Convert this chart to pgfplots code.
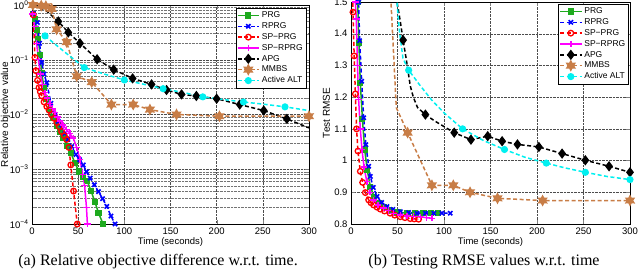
\documentclass[border=0pt]{standalone}
\usepackage{fontspec}
\setmainfont{Liberation Serif}
\newfontfamily\axfont{Liberation Sans}
\usepackage{pgfplots}
\pgfplotsset{compat=1.18}
\usetikzlibrary{plotmarks}
\definecolor{cgreen}{RGB}{30,170,30}
\definecolor{cblue}{RGB}{0,0,255}
\definecolor{cred}{RGB}{255,0,0}
\definecolor{cmag}{RGB}{255,0,255}
\definecolor{cbrown}{RGB}{200,125,70}
\definecolor{ccyan}{RGB}{0,240,240}
\pgfdeclareplotmark{hexagram}{%
 \pgfpathmoveto{\pgfpointpolar{90}{\pgfplotmarksize}}%
 \pgfpathlineto{\pgfpointpolar{120}{0.55\pgfplotmarksize}}%
 \pgfpathlineto{\pgfpointpolar{150}{\pgfplotmarksize}}%
 \pgfpathlineto{\pgfpointpolar{180}{0.55\pgfplotmarksize}}%
 \pgfpathlineto{\pgfpointpolar{210}{\pgfplotmarksize}}%
 \pgfpathlineto{\pgfpointpolar{240}{0.55\pgfplotmarksize}}%
 \pgfpathlineto{\pgfpointpolar{270}{\pgfplotmarksize}}%
 \pgfpathlineto{\pgfpointpolar{300}{0.55\pgfplotmarksize}}%
 \pgfpathlineto{\pgfpointpolar{330}{\pgfplotmarksize}}%
 \pgfpathlineto{\pgfpointpolar{0}{0.55\pgfplotmarksize}}%
 \pgfpathlineto{\pgfpointpolar{30}{\pgfplotmarksize}}%
 \pgfpathlineto{\pgfpointpolar{60}{0.55\pgfplotmarksize}}%
 \pgfpathclose\pgfusepathqfillstroke}
\pgfplotsset{
 common/.style={
  scale only axis, xmin=0, xmax=300, xtick={0,50,...,300},
  font=\axfont\fontsize{9.5}{11}\selectfont,
  /pgf/number format/assume math mode=true,
  grid=major, major grid style={densely dotted, black!70, line width=0.4pt},
  minor grid style={densely dotted, black!55, line width=0.4pt},
  tick align=inside, axis line style={black, line width=0.5pt},
  xlabel={Time (seconds)}, xlabel style={yshift=4pt},
  ylabel style={font=\axfont\fontsize{10}{12}\selectfont, anchor=south, inner sep=0pt},
  legend style={font=\axfont\fontsize{8.5}{9}\selectfont, draw=black, line width=0.5pt,
    inner xsep=1pt, inner ysep=1.5pt, row sep=-0.6pt, cells={anchor=west}},
  legend image code/.code={\draw[mark repeat=2,mark phase=2,#1] plot coordinates {(0cm,0cm) (0.38cm,0cm) (0.76cm,0cm)};},
 },
 sprg/.style={cgreen, solid, line width=1.5pt, mark=square*, mark size=2.3pt, mark options={solid}},
 srprg/.style={cblue, line width=1.5pt, dash pattern=on 4pt off 2.5pt, mark=x, mark size=3pt, mark options={solid, line width=1.6pt}},
 ssp/.style={cred, line width=1.5pt, dash pattern=on 4pt off 2.5pt, mark=o, mark size=2.8pt, mark options={solid, line width=1.3pt}},
 ssr/.style={cmag, solid, line width=1.5pt, mark=+, mark size=3.2pt, mark options={solid, line width=1.4pt}},
 sapg/.style={black, line width=1.5pt, dash pattern=on 4pt off 2.5pt, mark=diamond*, mark size=4pt, mark options={solid, fill=black}},
 smm/.style={cbrown, line width=1.5pt, dash pattern=on 4pt off 2.5pt, mark=hexagram, mark size=4.4pt, mark options={solid, fill=cbrown}},
 salt/.style={ccyan, line width=1.5pt, dash pattern=on 4pt off 2.5pt, mark=*, mark size=2.8pt, mark options={solid, fill=ccyan}},
}
\newcommand\legs{%
\addlegendimage{sprg}\addlegendentry{PRG}
\addlegendimage{srprg}\addlegendentry{RPRG}
\addlegendimage{ssp}\addlegendentry{SP−PRG}
\addlegendimage{ssr}\addlegendentry{SP−RPRG}
\addlegendimage{sapg}\addlegendentry{APG}
\addlegendimage{smm}\addlegendentry{MMBS}
\addlegendimage{salt}\addlegendentry{Active ALT}}
\begin{document}
\begin{tikzpicture}[x=1pt,y=1pt]
\path[use as bounding box] (0,0) rectangle (640,274);
% ---------------- left ----------------
\begin{axis}[common, at={(32pt,50pt)}, anchor=south west, width=277pt, height=219pt,
  ymode=log, ymin=1e-4, ymax=1, yminorgrids=true,
  ytick={1e-4,1e-3,1e-2,1e-1,1},
  yticklabels={10\textsuperscript{−4},10\textsuperscript{−3},10\textsuperscript{−2},10\textsuperscript{−1},10\textsuperscript{0}},
  ylabel={Relative objective value},
  ylabel style={at={(axis description cs:-0.078,0.5)}},
  legend style={at={(1,1)}, anchor=north east, xshift=-3pt, yshift=-3pt}]
\addplot[sprg, forget plot] coordinates {(1.4,0.68) (3.2,0.55) (5,0.35) (6.9,0.24) (8.7,0.12) (10.5,0.058) (13,0.03) (16,0.019) (19.5,0.012) (23,0.0087) (27,0.0062) (30.5,0.0048) (34,0.0037) (38,0.0027) (42,0.002) (46.5,0.0013) (51,9.1e-4) (55.5,7.2e-4) (60,6e-4) (64,4e-4) (68,2.57e-4) (72,1.6e-4) (77,1e-4) (79,8e-5)};
\addplot[srprg, forget plot] coordinates {(1.4,0.7) (5.8,0.48) (8.2,0.2) (10.5,0.089) (13,0.055) (16,0.038) (20.5,0.016) (25,0.01) (28.5,0.0075) (32,0.0057) (35.5,0.0045) (39,0.0035) (43,0.0026) (47.6,0.00185) (51.5,0.0015) (55.5,0.0012) (59,9e-4) (63,6.9e-4) (67.5,5.2e-4) (72,3.9e-4) (76.5,2.9e-4) (81,2.1e-4) (85.5,1.4e-4) (90,1e-4) (92,8e-5)};
\addplot[ssp, forget plot] coordinates {(1.4,0.66) (3.2,0.11) (4.3,0.063) (6,0.042) (7.6,0.031) (9,0.026) (10.5,0.022) (13,0.017) (16,0.014) (18.5,0.012) (21,0.01) (24,0.0085) (27,0.0071) (29.5,0.006) (32,0.0049) (35,0.0041) (37.5,0.0035) (40,0.0025) (42,0.0012) (45,4e-4) (49,1e-4) (50,7e-5)};
\addplot[ssr, forget plot] coordinates {(0.7,0.68) (3,0.4) (5,0.2) (7,0.1) (9,0.055) (11.5,0.035) (14,0.025) (16.5,0.02) (19.5,0.016) (22,0.013) (25,0.011) (27.5,0.009) (30,0.0076) (33.5,0.0064) (37.5,0.0053) (41,0.0045) (44.7,0.0037) (48.5,0.0025) (52,0.0015) (55,8e-4) (57,5e-4) (59,2e-4) (60,1e-4) (61,7e-5)};
\addplot[sapg, forget plot, mark indices={3,4,...,16}] coordinates {(2,1.0) (15,0.8) (28.5,0.5) (39.3,0.316) (52,0.2) (70.5,0.102) (88.5,0.066) (109,0.0457) (129.5,0.0355) (145.7,0.028) (162,0.0233) (178,0.0218) (200,0.0194) (225,0.0152) (251,0.0118) (276,0.0083) (300,0.0057)};
\addplot[smm, forget plot, mark indices={1,2,...,14}] coordinates {(1,1.0) (5,1.02) (10,0.97) (15,0.95) (21.3,0.85) (26.7,0.36) (37.6,0.21) (48.4,0.05) (64.7,0.039) (86,0.0152) (109.6,0.0152) (127.7,0.0123) (156.5,0.01) (203,0.0093) (300,0.0093)};
\addplot[salt, forget plot, mark indices={1,3,5,7,9,11,13}] coordinates {(14.1,0.273) (35,0.14) (56.6,0.072) (78,0.055) (100,0.0427) (120,0.036) (142,0.0296) (165,0.025) (185,0.021) (200,0.0195) (229,0.0169) (250,0.0155) (274,0.0138) (300,0.0118)};
\legs
\end{axis}
% ---------------- right ----------------
\begin{axis}[common, at={(351pt,50pt)}, anchor=south west, width=279pt, height=222pt,
  ymin=0.8, ymax=1.5, ytick={0.8,0.9,...,1.5},
  yticklabel style={/pgf/number format/fixed, /pgf/number format/precision=1},
  ylabel={Test RMSE},
  ylabel style={at={(axis description cs:-0.075,0.5)}},
  legend style={at={(1,1)}, anchor=north east, xshift=-1.5pt, yshift=-2pt}]
\addplot[sprg, forget plot] coordinates {(6.5,1.7) (7.2,1.5) (8.5,1.37) (10,1.246) (12.3,1.13) (14.7,1.035) (17.5,0.97) (20.8,0.918) (25,0.885) (29.7,0.866) (35,0.853) (42,0.844) (50,0.838) (60,0.834) (69,0.834) (78,0.834) (86,0.834) (94,0.834)};
\addplot[srprg, forget plot] coordinates {(7.5,1.7) (8.2,1.5) (9.3,1.378) (11.5,1.25) (13.6,1.135) (16,1.05) (19,0.982) (20.8,0.95) (24,0.915) (28,0.887) (33,0.868) (38.7,0.855) (45,0.846) (53,0.839) (62,0.836) (71,0.834) (80,0.834) (89,0.834) (97.7,0.834) (106.7,0.834)};
\addplot[ssp, forget plot] coordinates {(1.5,1.6) (2.1,1.468) (3.4,1.33) (4.7,1.21) (6,1.1) (7.5,1.03) (10,0.966) (12.5,0.931) (15.4,0.899) (19,0.876) (21.5,0.867) (24.3,0.86) (28,0.853) (31.5,0.847) (36,0.841) (42,0.834) (47,0.828) (53,0.823) (58,0.82) (63.7,0.817) (68,0.816) (72.7,0.815)};
\addplot[ssr, forget plot] coordinates {(4,1.65) (4.7,1.5) (5.7,1.447) (7,1.3) (8.2,1.193) (10,1.1) (11.8,1.035) (14,0.98) (17,0.934) (20.5,0.9) (24.3,0.876) (29,0.86) (35,0.85) (40,0.842) (45.8,0.834) (53,0.829) (60,0.825) (67,0.824) (74.5,0.823) (81,0.82) (87,0.818)};
\addplot[sapg, forget plot, mark indices={3,8,10,11,12,13,14,15,16,17,18,19}] coordinates {(48,1.6) (49.5,1.5) (53,1.439) (56,1.38) (59.4,1.32) (63.7,1.236) (67,1.2) (71.6,1.167) (80,1.145) (89.9,1.125) (111,1.088) (129,1.066) (147,1.077) (162.5,1.061) (179,1.051) (202,1.043) (227,1.022) (252,1.001) (277.5,0.982) (300,0.963)};
\addplot[smm, forget plot, mark indices={3,4,...,9}] coordinates {(42,1.7) (43,1.5) (48.7,1.167) (60.9,1.088) (87,0.922) (110,0.922) (128,0.90) (157.5,0.881) (206,0.874) (300,0.874)};
\addplot[salt, forget plot, mark indices={4,8,10,12,14,16}] coordinates {(48.5,1.6) (49.4,1.5) (52,1.41) (55.9,1.322) (62,1.285) (74.5,1.236) (87,1.19) (100.6,1.149) (120,1.1) (142.5,1.063) (165,1.035) (186.5,1.011) (210,0.992) (230,0.977) (252,0.963) (275,0.95) (300,0.94)};
\legs
\end{axis}
\node[anchor=base, font=\fontsize{16}{18}\selectfont] at (158,9) {(a) Relative objective difference w.r.t. time.};
\node[anchor=base, font=\fontsize{16}{18}\selectfont] at (484,9) {(b) Testing RMSE values w.r.t. time};
\end{tikzpicture}
\end{document}
